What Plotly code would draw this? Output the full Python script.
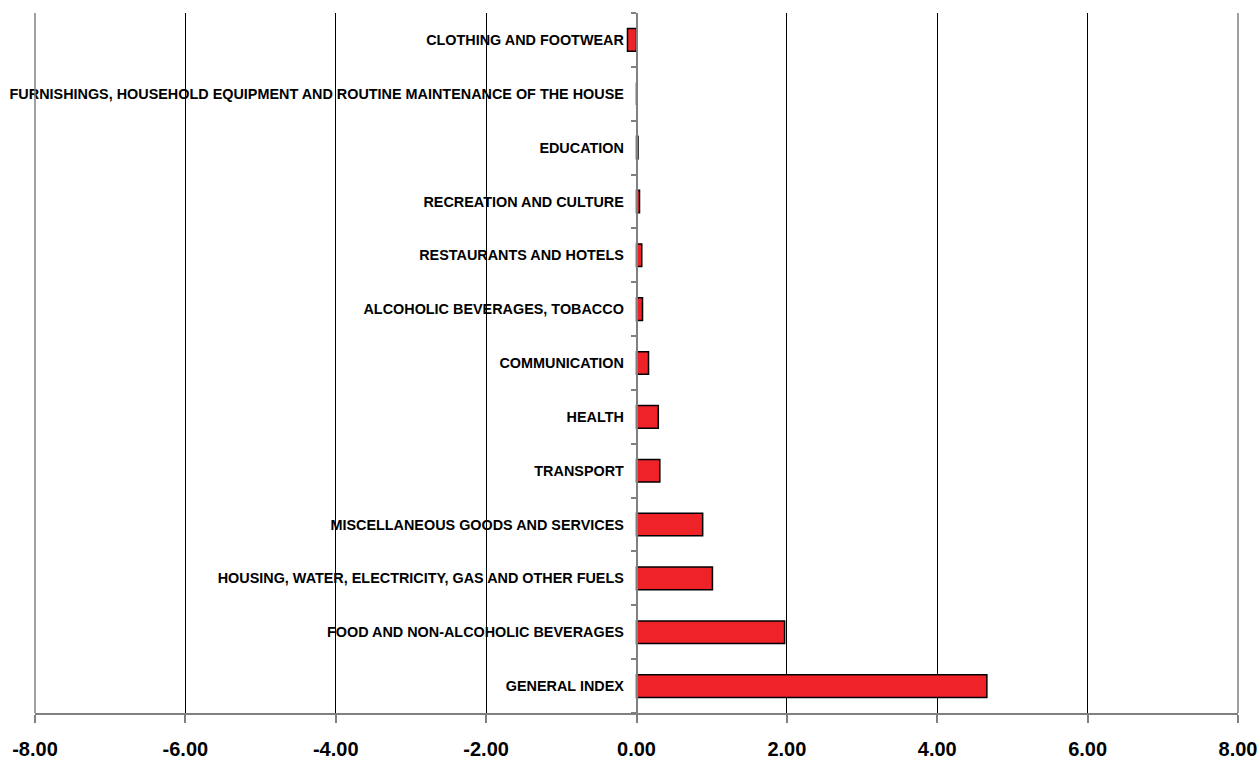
import plotly.graph_objects as go

categories = [
    "GENERAL INDEX",
    "FOOD AND NON-ALCOHOLIC BEVERAGES",
    "HOUSING, WATER, ELECTRICITY, GAS AND OTHER FUELS",
    "MISCELLANEOUS GOODS AND SERVICES",
    "TRANSPORT",
    "HEALTH",
    "COMMUNICATION",
    "ALCOHOLIC BEVERAGES, TOBACCO",
    "RESTAURANTS AND HOTELS",
    "RECREATION AND CULTURE",
    "EDUCATION",
    "FURNISHINGS, HOUSEHOLD EQUIPMENT AND ROUTINE MAINTENANCE OF THE HOUSE",
    "CLOTHING AND FOOTWEAR",
]
values = [4.66, 1.97, 1.01, 0.88, 0.31, 0.29, 0.16, 0.08, 0.07, 0.04, 0.02, 0.0, -0.12]

x_ticks = [-8, -6, -4, -2, 0, 2, 4, 6, 8]
x_ticktext = ["-8.00", "-6.00", "-4.00", "-2.00", "0.00", "2.00", "4.00", "6.00", "8.00"]

font_family = "Liberation Sans Narrow, Arial Narrow, Liberation Sans, Arial, sans-serif"

fig = go.Figure(
    go.Bar(
        x=values,
        y=categories,
        orientation="h",
        marker=dict(color="#EE2227", line=dict(color="#000000", width=1.5)),
        width=0.42,
    )
)

fig.update_layout(
    width=1260,
    height=760,
    margin=dict(l=35, r=22, t=13, b=47),
    plot_bgcolor="white",
    paper_bgcolor="white",
    showlegend=False,
    font=dict(family=font_family, color="#000000"),
    xaxis=dict(
        range=[-8, 8],
        tickmode="array",
        tickvals=x_ticks,
        ticktext=x_ticktext,
        tickfont=dict(size=20, family=font_family, weight="bold"),
        ticklabelstandoff=9,
        ticklabeloverflow="allow",
        showgrid=True,
        gridcolor="#000000",
        gridwidth=1,
        zeroline=False,
        showline=True,
        linecolor="#808080",
        linewidth=1.5,
        ticks="outside",
        ticklen=8,
        tickcolor="#808080",
        tickwidth=1.5,
        automargin=False,
    ),
    yaxis=dict(
        type="category",
        categoryorder="array",
        categoryarray=categories,
        range=[-0.5, len(categories) - 0.5],
        anchor="free",
        position=0.5,
        showline=True,
        linecolor="#808080",
        linewidth=1.5,
        ticks="outside",
        tickson="boundaries",
        ticklen=5,
        tickcolor="#808080",
        tickwidth=1.5,
        showgrid=False,
        tickfont=dict(size=14.4, family=font_family, weight="bold"),
        ticklabelstandoff=9,
        automargin=False,
    ),
    shapes=[
        dict(type="line", xref="paper", yref="paper", x0=0, x1=0, y0=0, y1=1,
             line=dict(color="#808080", width=1.5)),
        dict(type="line", xref="paper", yref="paper", x0=1, x1=1, y0=0, y1=1,
             line=dict(color="#808080", width=1.5)),
    ],
)

# page has default body margin; remove it so the figure sits at the window origin
fig.write_html(
    "out.html",
    config={"displayModeBar": False},
    post_script="document.body.style.margin='0';document.body.style.overflow='hidden';",
)
